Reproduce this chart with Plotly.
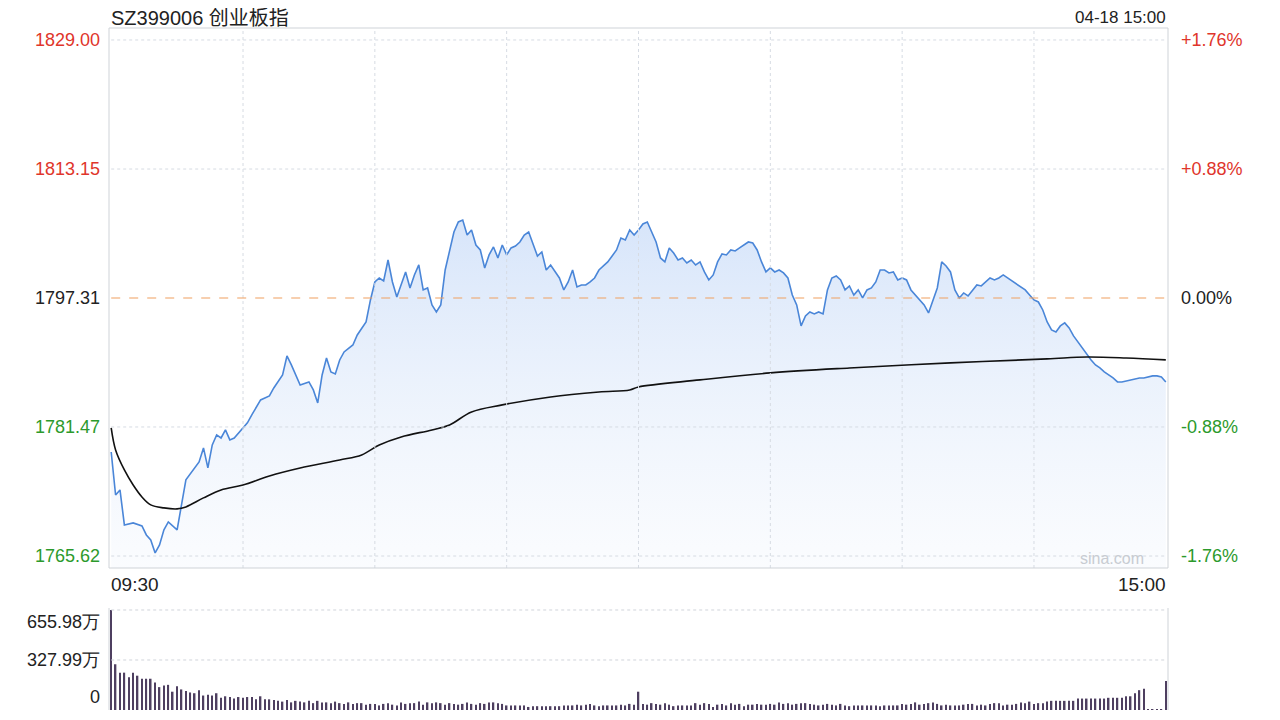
import plotly.graph_objects as go

# ---- data ----
price_idx = [0,1,2,3,5,7,8,9,10,11,12,13,15,16,17,20,21,22,23,24,25,26,27,28,30,31,32,34,36,37,39,40,41,43,45,46,47,48,49,50,51,52,53,55,56,58,59,60,61,62,63,64,65,66,67,68,69,70,71,72,73,74,75,76,77,78,79,80,81,82,83,84,85,86,87,88,89,90,91,92,93,94,95,96,97,98,99,100,101,102,103,104,105,106,107,108,109,110,111,112,113,114,115,116,117,118,119,120,121,122,123,124,125,126,127,128,129,130,131,132,133,134,135,136,137,138,139,140,141,142,143,144,145,146,147,148,149,150,151,152,153,154,155,156,157,158,159,160,161,162,163,164,165,166,167,168,169,170,171,172,173,174,175,176,177,178,179,180,181,182,183,184,185,186,187,188,189,190,191,192,193,194,195,196,197,198,199,200,201,202,203,204,205,206,207,208,209,210,211,212,213,214,215,216,217,218,219,220,221,222,223,224,225,226,227,228,229,230,231,232,233,234,235,236,237,238,239,240]
price = [1778.40,1773.12,1773.74,1769.44,1769.69,1769.32,1768.21,1767.60,1766.00,1766.98,1768.83,1769.81,1768.83,1771.90,1774.97,1777.18,1778.90,1776.44,1779.26,1780.49,1780.12,1781.11,1779.88,1780.12,1781.35,1781.97,1782.95,1784.79,1785.28,1786.26,1787.86,1790.19,1789.09,1786.63,1787.00,1786.02,1784.42,1787.86,1789.95,1788.23,1787.98,1789.70,1790.68,1791.54,1792.77,1794.37,1797.07,1799.28,1799.77,1799.40,1801.98,1799.28,1797.44,1798.91,1800.51,1798.54,1800.14,1801.37,1798.30,1798.54,1796.46,1795.60,1796.46,1800.75,1803.21,1805.42,1806.65,1806.89,1805.05,1805.67,1803.82,1803.21,1801.00,1802.60,1803.58,1802.23,1803.82,1802.60,1803.46,1803.70,1804.19,1805.05,1805.42,1803.82,1802.47,1802.96,1800.75,1801.37,1800.51,1799.77,1798.30,1799.28,1800.75,1798.67,1798.91,1798.91,1799.28,1799.77,1800.75,1801.25,1801.74,1802.47,1803.21,1804.68,1804.43,1805.67,1805.05,1805.67,1806.40,1806.65,1805.42,1804.19,1802.23,1801.74,1803.46,1802.84,1801.98,1802.23,1801.61,1801.98,1801.37,1801.74,1800.51,1799.53,1800.14,1801.74,1802.72,1802.60,1803.21,1803.09,1803.46,1803.82,1804.19,1804.07,1803.21,1801.74,1800.51,1801.00,1800.51,1800.75,1800.39,1799.77,1797.68,1796.46,1793.88,1795.11,1795.60,1795.35,1795.60,1795.35,1798.30,1799.77,1800.02,1799.53,1798.30,1798.79,1797.68,1798.30,1797.32,1798.30,1798.54,1799.28,1800.75,1800.75,1800.39,1800.51,1799.53,1799.77,1799.53,1798.30,1797.68,1797.07,1796.46,1795.47,1797.07,1798.54,1801.74,1801.25,1800.51,1798.30,1797.32,1797.93,1797.56,1798.30,1798.91,1798.79,1799.28,1799.77,1799.53,1799.77,1800.14,1799.77,1799.40,1799.03,1798.67,1798.30,1797.68,1797.07,1796.82,1795.84,1794.37,1793.39,1793.14,1793.88,1794.25,1793.63,1792.65,1791.91,1791.18,1790.32,1789.70,1789.09,1788.72,1788.23,1787.86,1787.49,1787.00,1787.00,1787.12,1787.25,1787.37,1787.49,1787.49,1787.62,1787.74,1787.74,1787.62,1787.00]

avg_idx = [0,1,3,5,7,9,12,15,17,21,25,30,36,43,52,57,61,66,73,77,82,89,100,111,118,120,134,150,168,191,213,222,231,240]
avg = [1781.35,1778.65,1776.19,1774.35,1772.88,1771.90,1771.53,1771.41,1771.65,1772.76,1773.74,1774.35,1775.46,1776.44,1777.42,1778.04,1779.26,1780.25,1781.11,1781.72,1783.32,1784.18,1785.16,1785.77,1786.02,1786.39,1787.25,1788.11,1788.72,1789.34,1789.83,1790.07,1789.95,1789.71]

volume = [656,300,245,245,215,245,225,205,205,205,180,150,160,165,120,155,135,125,115,110,
          130,95,100,95,110,80,90,85,75,85,80,85,85,70,90,70,70,65,60,55,
          65,50,60,55,50,60,45,60,50,50,45,55,45,40,50,40,45,45,35,40,
          40,30,40,45,35,30,50,40,45,45,55,35,50,45,50,45,35,45,40,35,
          40,50,40,35,45,40,50,50,45,40,30,30,30,30,30,20,25,25,25,25,
          25,25,25,30,30,30,35,30,35,40,30,25,30,30,30,30,35,30,40,35,
          120,40,35,45,40,35,45,35,25,30,30,30,30,45,35,45,40,20,35,40,
          30,45,35,40,25,35,35,40,35,35,40,35,50,40,45,35,40,45,45,40,
          35,30,35,40,35,30,40,30,25,30,30,30,30,30,30,25,30,30,30,30,
          40,35,40,50,35,40,45,50,40,30,35,30,30,30,35,40,40,30,35,30,
          40,45,45,30,35,35,40,50,45,55,40,45,45,55,60,60,60,60,60,60,
          75,75,75,75,75,75,75,80,80,80,80,90,90,110,130,140,5,5,5,5,190]
vol_idx = list(range(len(volume)))

price_ticks = [1765.62, 1781.47, 1797.31, 1813.15, 1829.00]
price_tick_text = ["1765.62", "1781.47", "1797.31", "1813.15", "1829.00"]
pct_tick_text = ["-1.76%", "-0.88%", "0.00%", "+0.88%", "+1.76%"]
tick_colors = ["#2c9a2c", "#2c9a2c", "#222222", "#e0352b", "#e0352b"]
vol_ticks = [0, 327.99, 655.98]
vol_tick_text = ["0", "327.99万", "655.98万"]
time_grid = [30, 60, 90, 120, 150, 180, 210]

P_LO, P_HI = 1764.15, 1830.47
W, H = 1280, 720
OFF = 8  # page offset of the plot div
L, R, T, B = 109 - OFF, 1168 - OFF, 28 - OFF, 710 - OFF

def px(x): return (x - OFF - L) / (R - L)
def py(y): return (B - (y - OFF)) / (B - T)

fig = go.Figure()
fig.add_trace(go.Scatter(x=[0, 240], y=[P_LO, P_LO], mode="lines", line=dict(width=0),
                         hoverinfo="skip", showlegend=False, xaxis="x", yaxis="y"))
fig.add_trace(go.Scatter(x=price_idx, y=price, mode="lines", line=dict(color="#4a86d8", width=1.6),
                         fill="tonexty",
                         fillgradient=dict(type="vertical",
                                           colorscale=[[0, "rgba(215,228,248,0.12)"], [1, "rgba(175,203,245,0.5)"]]),
                         showlegend=False, xaxis="x", yaxis="y"))
fig.add_trace(go.Scatter(x=avg_idx, y=avg, mode="lines", line=dict(color="#111111", width=1.6, shape="spline"),
                         showlegend=False, xaxis="x", yaxis="y"))
fig.add_trace(go.Bar(x=vol_idx, y=volume, marker=dict(color="#4e3f60", line=dict(width=0)), width=0.35,
                     showlegend=False, xaxis="x2", yaxis="y2"))

shapes = []
for t in time_grid:
    shapes.append(dict(type="line", xref="x", yref="y", x0=t, x1=t, y0=P_LO, y1=P_HI,
                       line=dict(color="#d6dbe3", width=1, dash="dot")))
for v in price_ticks:
    if v == 1797.31:
        shapes.append(dict(type="line", xref="x", yref="y", x0=0, x1=240, y0=v, y1=v,
                           line=dict(color="#f0a060", width=1.2, dash="dash")))
    else:
        shapes.append(dict(type="line", xref="x", yref="y", x0=0, x1=240, y0=v, y1=v,
                           line=dict(color="#d6dbe3", width=1, dash="dot")))
for v in vol_ticks[1:]:
    shapes.append(dict(type="line", xref="x2", yref="y2", x0=0, x1=240, y0=v, y1=v,
                       line=dict(color="#d0d4da", width=1, dash="dot")))
shapes.append(dict(type="rect", xref="paper", yref="paper", x0=0, x1=1, y0=py(568), y1=1,
                   line=dict(color="#cfd3d8", width=1)))
shapes.append(dict(type="line", xref="paper", yref="paper", x0=0, x1=0, y0=0, y1=py(608),
                   line=dict(color="#cfd3d8", width=1)))
shapes.append(dict(type="line", xref="paper", yref="paper", x0=1, x1=1, y0=0, y1=py(608),
                   line=dict(color="#cfd3d8", width=1)))

ann = []
font = "Liberation Sans, Arial, sans-serif"
for v, t, c in zip(price_ticks, price_tick_text, tick_colors):
    ann.append(dict(x=px(102), xref="paper", y=v, yref="y", text=t, showarrow=False,
                    xanchor="right", yanchor="middle", font=dict(size=18, color=c, family=font)))
for v, t, c in zip(price_ticks, pct_tick_text, tick_colors):
    ann.append(dict(x=px(1179), xref="paper", y=v, yref="y", text=t, showarrow=False,
                    xanchor="left", yanchor="middle", font=dict(size=18, color=c, family=font)))
for v, t, yy in zip(vol_ticks, vol_tick_text, [697, 660, 622]):
    ann.append(dict(x=px(102), xref="paper", y=py(yy), yref="paper", text=t, showarrow=False,
                    xanchor="right", yanchor="middle", font=dict(size=18, color="#222", family=font)))
ann.append(dict(x=px(109), xref="paper", y=py(18), yref="paper", text="SZ399006 创业板指", showarrow=False,
                xanchor="left", yanchor="middle",
                font=dict(size=20, color="#222", family="Liberation Sans, Noto Sans CJK SC, sans-serif")))
ann.append(dict(x=px(1168), xref="paper", y=py(17), yref="paper", text="04-18 15:00", showarrow=False,
                xanchor="right", yanchor="middle", font=dict(size=17, color="#222", family=font)))
ann.append(dict(x=px(109), xref="paper", y=py(584), yref="paper", text="09:30", showarrow=False,
                xanchor="left", yanchor="middle", font=dict(size=19, color="#222", family=font)))
ann.append(dict(x=px(1168), xref="paper", y=py(584), yref="paper", text="15:00", showarrow=False,
                xanchor="right", yanchor="middle", font=dict(size=19, color="#222", family=font)))
ann.append(dict(x=px(1146), xref="paper", y=py(558), yref="paper", text="sina.com", showarrow=False,
                xanchor="right", yanchor="middle", font=dict(size=16, color="#c8ccd2", family=font)))

fig.update_layout(
    width=W, height=H, margin=dict(l=L, r=W - R, t=T, b=H - B),
    paper_bgcolor="white", plot_bgcolor="white",
    xaxis=dict(range=[-0.5, 240.5], visible=False, domain=[0, 1]),
    yaxis=dict(range=[P_LO, P_HI], visible=False, domain=[py(568), 1]),
    xaxis2=dict(range=[-0.5, 240.5], visible=False, domain=[0, 1], anchor="y2"),
    yaxis2=dict(range=[0, 669], visible=False, domain=[0, py(608)], anchor="x2"),
    shapes=shapes, annotations=ann, bargap=0.6,
)
fig.write_html("out.html")
